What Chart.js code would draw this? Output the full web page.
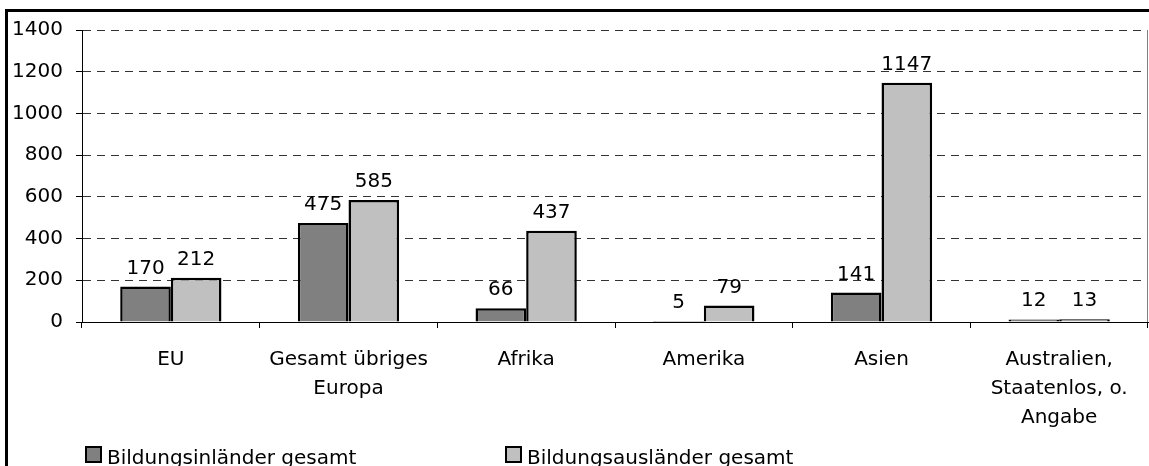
<!DOCTYPE html>
<html>
<head>
<meta charset="utf-8">
<script src="https://cdn.jsdelivr.net/npm/chart.js@4"></script>
<style>
    body { margin: 0; background: #fff; }
    #wrap { position: relative; width: 1149px; height: 466px; }
</style>
</head>
<body>
<div id="wrap"><canvas id="grafico"></canvas></div>
<script>
// Dados do gráfico
const regionen = ['EU', ['Gesamt übriges', 'Europa'], 'Afrika', 'Amerika', 'Asien', ['Australien,', 'Staatenlos, o.', 'Angabe']];
const inlaender = [170, 475, 66, 5, 141, 12];
const auslaender = [212, 585, 437, 79, 1147, 13];
const serienNamen = ['Bildungsinländer gesamt', 'Bildungsausländer gesamt'];
const yTicks = [0, 200, 400, 600, 800, 1000, 1200, 1400];

const schrift = "'DejaVu Sans', sans-serif";

// Rahmen, Werte und Legende
const extras = {
    id: 'extras',
    afterDraw(chart) {
        const ctx = chart.ctx;
        const area = chart.chartArea;
        ctx.save();

        // rechte Linie der Zeichenfläche
        ctx.strokeStyle = '#808080';
        ctx.lineWidth = 1;
        ctx.beginPath();
        ctx.moveTo(area.right - 0.5, area.top);
        ctx.lineTo(area.right - 0.5, area.bottom);
        ctx.stroke();

        // äußerer Rahmen
        ctx.strokeStyle = '#000';
        ctx.lineWidth = 3;
        ctx.strokeRect(6.5, 10.5, 1200, 600);

        // Datenbeschriftungen
        ctx.fillStyle = '#000';
        ctx.font = '20px ' + schrift;
        ctx.textAlign = 'center';
        ctx.textBaseline = 'alphabetic';
        chart.data.datasets.forEach((ds, i) => {
            chart.getDatasetMeta(i).data.forEach((bar, j) => {
                ctx.fillText(String(ds.data[j]), bar.x, bar.y - 13);
            });
        });

        // Legende
        const legendX = [86, 506];
        ctx.textAlign = 'left';
        chart.data.datasets.forEach((ds, i) => {
            ctx.fillStyle = ds.backgroundColor;
            ctx.fillRect(legendX[i], 447, 15, 15);
            ctx.strokeStyle = '#000';
            ctx.lineWidth = 2;
            ctx.strokeRect(legendX[i], 447, 15, 15);
            ctx.fillStyle = '#000';
            ctx.fillText(ds.label, legendX[i] + 21, 464);
        });
        ctx.restore();
    }
};

new Chart(document.getElementById('grafico'), {
    type: 'bar',
    data: {
        labels: regionen,
        datasets: [
            {
                label: serienNamen[0],
                data: inlaender,
                backgroundColor: '#808080',
                borderColor: '#000',
                borderWidth: 2.5,
                categoryPercentage: 0.57,
                barPercentage: 1
            },
            {
                label: serienNamen[1],
                data: auslaender,
                backgroundColor: '#c0c0c0',
                borderColor: '#000',
                borderWidth: 2.5,
                categoryPercentage: 0.57,
                barPercentage: 1
            }
        ]
    },
    options: {
        responsive: true,
        maintainAspectRatio: false,
        animation: false,
        layout: { padding: { top: 30, right: 1, left: 0, bottom: 0 } },
        plugins: {
            legend: { display: false },
            tooltip: { enabled: false }
        },
        scales: {
            x: {
                afterFit: (scale) => { scale.height = 144; },
                grid: {
                    drawOnChartArea: false,
                    tickLength: 6,
                    tickColor: '#000'
                },
                border: { color: '#000', width: 1 },
                ticks: {
                    color: '#000',
                    font: { family: schrift, size: 20, lineHeight: 1.45 },
                    padding: 17,
                    maxRotation: 0,
                    autoSkip: false
                }
            },
            y: {
                min: 0,
                max: 1400,
                afterFit: (scale) => { scale.width = 82; },
                afterBuildTicks: (scale) => {
                    scale.ticks = yTicks.map(v => ({ value: v }));
                },
                grid: {
                    color: '#333',
                    lineWidth: 1,
                    tickLength: 6,
                    tickColor: '#000',
                    tickBorderDash: []
                },
                border: { color: '#000', width: 1, dash: [8, 6] },
                ticks: {
                    color: '#000',
                    font: { family: schrift, size: 20 },
                    padding: 13,
                    callback: (v) => String(v)
                }
            }
        }
    },
    plugins: [extras]
});
</script>
</body>
</html>
